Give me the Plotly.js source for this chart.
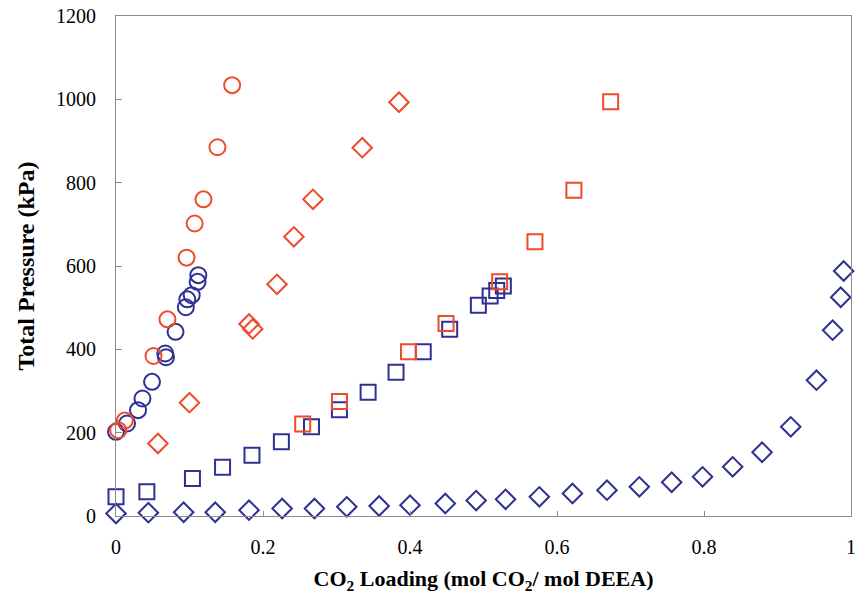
<!DOCTYPE html>
<html>
<head>
<meta charset="utf-8">
<script src="https://cdn.plot.ly/plotly-3.0.1.min.js"></script>
<style>html,body{margin:0;padding:0;background:#fff;}#chart{width:855px;height:594px;}</style>
</head>
<body>
<div id="chart"></div>
<script>
// Red circles
const redCircleX = [0.003, 0.012, 0.051, 0.070, 0.096, 0.107, 0.119, 0.138, 0.158];
const redCircleY = [206, 229, 384, 472, 620, 702, 760, 885, 1034];
// Blue circles
const blueCircleX = [0.000, 0.015, 0.030, 0.036, 0.049, 0.067, 0.068, 0.081, 0.095, 0.097, 0.103, 0.111, 0.112];
const blueCircleY = [202, 222, 254, 282, 322, 390, 381, 442, 501, 520, 530, 562, 578];
// Red diamonds
const redDiamondX = [0.057, 0.100, 0.181, 0.186, 0.219, 0.242, 0.268, 0.335, 0.385];
const redDiamondY = [174, 272, 461, 449, 556, 670, 760, 884, 993];
// Red squares
const redSquareX = [0.254, 0.304, 0.398, 0.449, 0.522, 0.570, 0.623, 0.673];
const redSquareY = [221, 275, 394, 462, 562, 658, 782, 994];
// Blue squares
const blueSquareX = [0.000, 0.042, 0.104, 0.145, 0.185, 0.225, 0.266, 0.304, 0.343, 0.381, 0.418, 0.454, 0.493, 0.509, 0.518, 0.527];
const blueSquareY = [46, 58, 90, 117, 146, 178, 214, 255, 297, 345, 394, 448, 506, 528, 541, 552];
// Blue diamonds
const blueDiamondX = [0.000, 0.044, 0.092, 0.135, 0.181, 0.226, 0.270, 0.314, 0.358, 0.400, 0.448, 0.490, 0.530, 0.576, 0.621, 0.668, 0.712, 0.756, 0.798, 0.839, 0.879, 0.918, 0.953, 0.975, 0.986, 0.990];
const blueDiamondY = [6, 8, 9, 9, 14, 18, 18, 22, 24, 26, 30, 37, 40, 46, 54, 62, 70, 81, 94, 118, 153, 214, 326, 446, 525, 588];

const xTicks = [0, 0.2, 0.4, 0.6, 0.8, 1];
const xTickText = ['0', '0.2', '0.4', '0.6', '0.8', '1'];
const yTicks = [0, 200, 400, 600, 800, 1000, 1200];
const yTickText = ['0', '200', '400', '600', '800', '1000', '1200'];

const RED = '#EF4A2A';
const BLUE = '#2E3192';

function tr(x, y, symbol, color, size) {
  return {
    x: x, y: y, type: 'scatter', mode: 'markers', cliponaxis: false,
    marker: {symbol: symbol, size: size, color: color, line: {color: color, width: 2}},
    hoverinfo: 'x+y', showlegend: false
  };
}

const data = [
  tr(blueDiamondX, blueDiamondY, 'diamond-open', BLUE, 15),
  tr(blueSquareX, blueSquareY, 'square-open', BLUE, 15),
  tr(blueCircleX, blueCircleY, 'circle-open', BLUE, 16),
  tr(redSquareX, redSquareY, 'square-open', RED, 15),
  tr(redDiamondX, redDiamondY, 'diamond-open', RED, 15),
  tr(redCircleX, redCircleY, 'circle-open', RED, 16)
];

const font = {family: '"Liberation Serif", "Times New Roman", serif', color: '#000'};

const layout = {
  width: 855, height: 594,
  margin: {l: 116, r: 4, t: 16, b: 78},
  paper_bgcolor: '#fff', plot_bgcolor: '#fff',
  font: Object.assign({size: 20}, font),
  showlegend: false,
  xaxis: {
    range: [0, 1], tickvals: xTicks, ticktext: xTickText,
    showgrid: false, zeroline: false,
    showline: true, linecolor: '#8c8c8c', linewidth: 1, mirror: true,
    ticks: 'inside', ticklen: 5, tickcolor: '#8c8c8c', tickwidth: 1,
    ticklabelstandoff: 13, ticklabeloverflow: 'allow',
    tickfont: Object.assign({size: 20}, font),
    title: {text: 'CO<sub>2</sub> Loading (mol CO<sub>2</sub>/ mol DEEA)', font: Object.assign({size: 22, weight: 'bold'}, font), standoff: 14}
  },
  yaxis: {
    range: [0, 1200], tickvals: yTicks, ticktext: yTickText,
    showgrid: false, zeroline: false,
    showline: true, linecolor: '#8c8c8c', linewidth: 1, mirror: true,
    ticks: 'inside', ticklen: 6, tickcolor: '#8c8c8c', tickwidth: 1,
    ticklabelstandoff: 15, ticklabeloverflow: 'allow',
    tickfont: Object.assign({size: 20}, font),
    title: {text: 'Total Pressure (kPa)', font: Object.assign({size: 24, weight: 'bold'}, font), standoff: 14}
  }
};

Plotly.newPlot('chart', data, layout, {displayModeBar: false, staticPlot: true});
</script>
</body>
</html>
